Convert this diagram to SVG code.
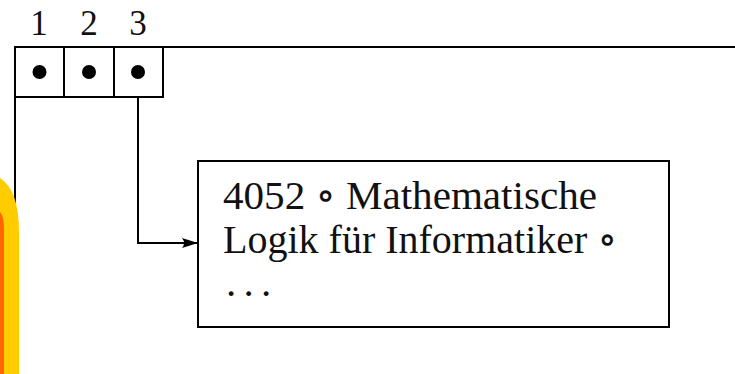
<svg xmlns="http://www.w3.org/2000/svg" width="735" height="374" viewBox="0 0 735 374">
<style>
.ln{stroke:#000;stroke-width:2;fill:none}
.t{font-family:"Liberation Serif","DejaVu Serif",serif;fill:#111}
</style>
<defs>
<marker id="ah" markerWidth="16" markerHeight="10" refX="16" refY="5" orient="auto" markerUnits="userSpaceOnUse">
<path d="M0,0 L16,5 L0,10 Q4,5 0,0 Z" fill="#000"/>
</marker>
</defs>
<rect width="735" height="374" fill="#fff"/>
<g id="labels">
<text class="t" x="39" y="35" font-size="35" text-anchor="middle">1</text>
<text class="t" x="89" y="35" font-size="35" text-anchor="middle">2</text>
<text class="t" x="138" y="35" font-size="35" text-anchor="middle">3</text>
</g>
<g id="connectors">
<line class="ln" x1="14" y1="47" x2="735" y2="47"/>
<line class="ln" x1="15" y1="47" x2="15" y2="230" stroke-width="3"/>
<polyline class="ln" points="138,97 138,243 198,243" marker-end="url(#ah)"/>
</g>
<g id="array">
<rect class="ln" x="15" y="47" width="148" height="50"/>
<line class="ln" x1="64" y1="47" x2="64" y2="97"/>
<line class="ln" x1="114" y1="47" x2="114" y2="97"/>
<circle cx="39.5" cy="72" r="7" fill="#000"/>
<circle cx="89" cy="72" r="7" fill="#000"/>
<circle cx="138" cy="72" r="7" fill="#000"/>
</g>
<g id="record">
<rect class="ln" x="198" y="161" width="471" height="166"/>
<text class="t" x="223" y="209" font-size="41" textLength="374" lengthAdjust="spacingAndGlyphs">4052 ∘ Mathematische</text>
<text class="t" x="223" y="253" font-size="41" textLength="394" lengthAdjust="spacingAndGlyphs">Logik für Informatiker ∘</text>
<text class="t" x="226 243.5 261" y="296" font-size="41">...</text>
</g>
<g id="decoration">
<path d="M0,178 Q19,190 19,232 L19,374 L0,374 Z" fill="#ffcc00"/>
<path d="M0,212 Q4,216 4,230 L4,374 L0,374 Z" fill="#ff6600"/>
</g>
</svg>
